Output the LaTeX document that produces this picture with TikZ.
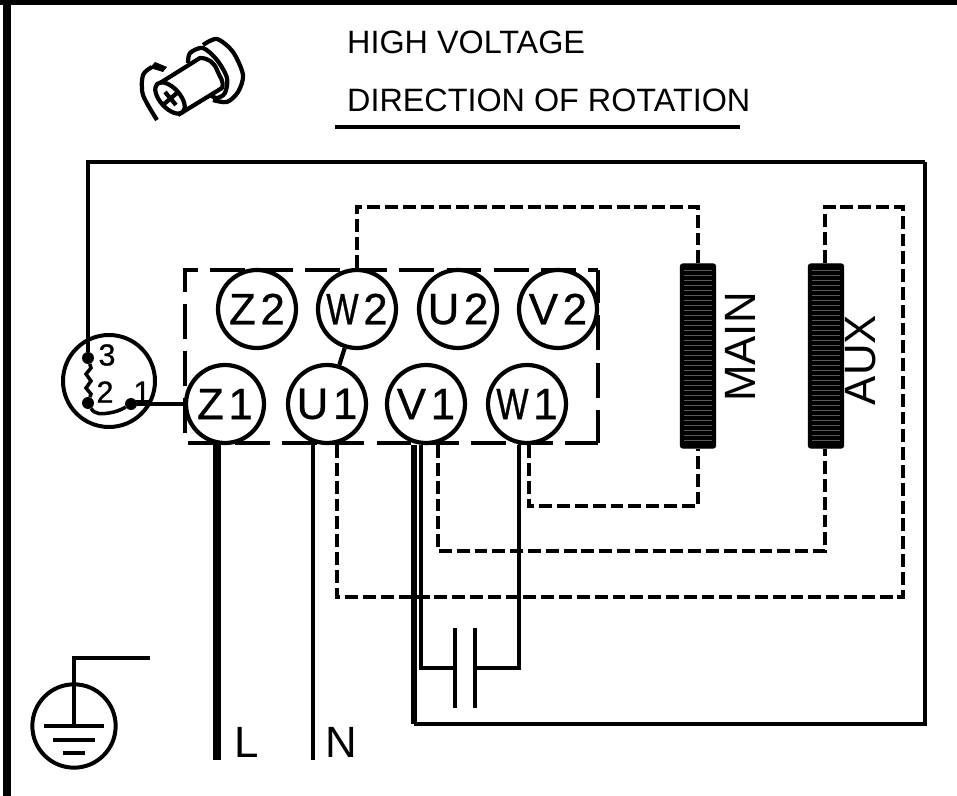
\documentclass[tikz,border=0pt]{standalone}
\usepackage{fontspec}
\setmainfont{Liberation Sans}
\newfontfamily\termfont[FakeBold=0.8]{Liberation Sans}
\usetikzlibrary{shapes, arrows, fit}
\usetikzlibrary{positioning}
\newcommand{\termW}{\scalebox{0.78}[1]{W}}
\newcommand{\termgap}{\hspace{4pt}}
\tikzset{
  terminal/.style={draw,circle,fill=white,line width=3.6pt,minimum size=2.34cm,inner sep=0pt,
    font=\termfont\fontsize{37.4}{40}\selectfont},
  coil/.style={draw,fill=black,rectangle,rounded corners=2pt,line width=1pt,minimum width=1.05cm,minimum height=5.52cm,inner sep=0pt},
  plainwire/.style={line width=3.6pt},
  neutralwire/.style={line width=4.2pt},
  heavywire/.style={line width=5.5pt},
  dashwire/.style={line width=4pt,dash pattern=on 11pt off 4.2pt},
  boxline/.style={line width=3.8pt,dash pattern=on 29.8pt off 10.5pt},
  biglabel/.style={inner sep=0pt,font=\fontsize{37.4}{40}\selectfont},
  headlabel/.style={inner sep=0pt,anchor=west,font=\fontsize{27.6}{30}\selectfont},
  pinlabel/.style={inner sep=0pt,font=\termfont\fontsize{26}{28}\selectfont},
  pindot/.style={fill=black,circle,minimum size=0.36cm,inner sep=0pt},
}
\begin{document}
\begin{tikzpicture}[x=0.03cm,y=-0.03cm]
\useasboundingbox (0,0) rectangle (957,796);
\path
  coordinate (aux0) at (88,162)
  coordinate (aux1) at (925,162)
  coordinate (aux2) at (925,724)
  coordinate (aux3) at (414,724)
  coordinate (aux4) at (421,668)
  coordinate (aux5) at (519,668)
  coordinate (aux6) at (357,207)
  coordinate (aux7) at (698,207)
  coordinate (aux8) at (825,207)
  coordinate (aux9) at (903,207)
  coordinate (aux10) at (903,597)
  coordinate (aux11) at (337,597)
  coordinate (aux12) at (825,551)
  coordinate (aux13) at (438,551)
  coordinate (aux14) at (698,506)
  coordinate (aux15) at (529,506)
  coordinate (endL) at (217,760)
  coordinate (endN) at (313,760)
  coordinate (plateA) at (455,668)
  coordinate (plateB) at (475,668)
  ;
% frame
\draw[line width=6pt] (7,0) -- (7,796);
\draw[line width=6pt] (0,1) -- (957,1);
% terminal box
\draw[boxline,dash phase=2pt] (598,443) -- (185,443) -- (185,270) -- (598,270);
\draw[boxline,dash phase=1.5pt] (598,443) -- (598,270);
% terminals
\node[terminal] (Z2) at (257,309) {Z\termgap 2};
\node[terminal] (W2) at (357,309) {\termW\termgap 2};
\node[terminal] (U2) at (458,309) {U\termgap 2};
\node[terminal] (V2) at (558,309) {V\termgap 2};
\node[terminal] (Z1) at (225,404) {Z\termgap 1};
\node[terminal] (U1) at (327,404) {U\termgap 1};
\node[terminal] (V1) at (426,404) {V\termgap 1};
\node[terminal] (W1) at (527,404) {\termW\termgap 1};
\draw[plainwire] (W2) -- (U1);
% windings
\node[coil] (MAIN) at (698,356) {};
\node[coil] (AUX) at (826,356) {};
\foreach \y in {270,275,...,444} {
  \draw[black!65,line width=0.2pt] (684,\y) -- (712,\y);
  \draw[black!65,line width=0.2pt] (812,\y) -- (840,\y);
}
\node[biglabel,rotate=90] (mainlabel) at (740,347) {MAIN};
\node[biglabel,rotate=90] (auxlabel) at (861,360) {AUX};
% protector
\node[draw,circle,line width=3.4pt,minimum size=2.76cm,inner sep=0pt] (prot) at (109,381) {};
\node[pindot] (pin3) at (88,358) {};
\node[pindot] (pin2) at (88,403) {};
\node[pindot] (pin1) at (131,404) {};
\node[pinlabel] (lab3) at (107,355) {3};
\node[pinlabel] (lab2) at (105,392) {2};
\node[pinlabel] (lab1) at (142,392) {1};
\draw[plainwire] (aux1) -- (aux0) -- (pin3);
\draw[line width=3pt] (pin3) -- (91,368) -- (86,374) -- (91,381) -- (86,388) -- (91,394) -- (pin2);
\draw[line width=3pt] (pin2) to[out=-60,in=190] (109,413) to[out=10,in=-150] (pin1);
\draw[plainwire] (pin1) -- (Z1);
% supply and capacitor
\draw[heavywire,line width=6pt] (endL) -- (endL |- Z1.south);
\node[biglabel] (L) at (247,742) {L};
\draw[neutralwire] (endN) -- (endN |- U1.south);
\node[biglabel] (N) at (341,742) {N};
\draw[heavywire] (aux3 |- V1.south) -- (aux3);
\draw[plainwire] (aux3) -- (aux2) -- (aux1);
\draw[plainwire] (aux4 |- V1.south) -- (aux4) -- (plateA);
\draw[plainwire] (aux5 |- W1.south) -- (aux5) -- (plateB);
\draw[plainwire] (455,628) -- (455,708);
\draw[plainwire] (475,628) -- (475,708);
% dashed leads
\draw[dashwire] (aux6 |- Z2.north) -- (aux6) -- (aux7) -- (MAIN.north);
\draw[dashwire] (aux15 |- W1.south) -- (aux15) -- (aux14) -- (MAIN.south);
\draw[dashwire] (aux13 |- V1.south) -- (aux13) -- (aux12) -- (aux8 |- AUX.south);
\draw[dashwire] (aux11 |- U1.south) -- (aux11) -- (aux10) -- (aux9) -- (aux8) -- (aux8 |- AUX.north);
% heading
\node[headlabel] (high) at (347,42) {HIGH VOLTAGE};
\node[headlabel] (direction) at (347,100) {DIRECTION OF ROTATION};
\draw[line width=4pt] (335,127) -- (740,127);
% screw
\begin{scope}[line width=3.6pt,line join=round]
\draw[rotate around={-48:(170,98)}] (170,98) ellipse (19 and 10);
\draw (160,83) -- (200,58) to[out=0,in=110] (217,70) to[out=-70,in=70] (222,88) -- (178,115);
\draw plot[smooth] coordinates {(188,63) (190,53) (203,48) (217,60) (227,78) (225,93) (217,98) (210,95)};
\draw plot[smooth] coordinates {(203,45) (217,39) (233,52) (243,75) (238,92) (227,102) (213,100)};
\draw (165,92) -- (176,105);
\draw (164,104) -- (177,93);
\draw plot[smooth] coordinates {(157,120) (143,95) (143,75) (152,67)};
\end{scope}
\fill (155,62) -- (167,67) -- (163,72) -- (150,68) -- cycle;
% earth
\draw[plainwire] (150,658) -- (74,658) -- (74,726);
\node[draw,circle,line width=3.4pt,minimum size=2.5cm,inner sep=0pt] (earth) at (74,726) {};
\draw[plainwire] (44,726) -- (104,726);
\draw[plainwire] (53,740) -- (95,740);
\draw[plainwire] (63,753) -- (85,753);
\end{tikzpicture}
\end{document}
